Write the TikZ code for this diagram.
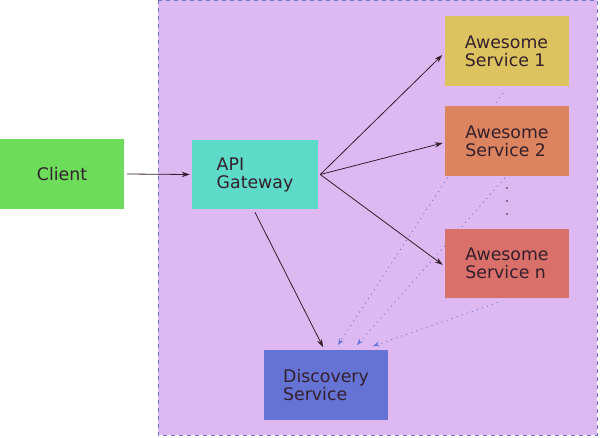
\documentclass[tikz,border=0pt]{standalone}
\usepackage{fontspec}
\setmainfont{DejaVu Sans}
\usepackage{xcolor}
\usepackage{tikz}
\usetikzlibrary{arrows.meta,backgrounds}

\definecolor{region}{HTML}{DDB8F1}
\definecolor{clientc}{HTML}{6DDC5A}
\definecolor{gatec}{HTML}{5DDAC8}
\definecolor{serva}{HTML}{DCC35F}
\definecolor{servb}{HTML}{DC8460}
\definecolor{servn}{HTML}{D9706A}
\definecolor{discc}{HTML}{6473D4}
\definecolor{ink}{HTML}{34202C}
\definecolor{dotc}{HTML}{6474D8}

\begin{document}
\begin{tikzpicture}[x=0.75pt,y=-0.75pt,
		box/.style={minimum width=93pt, minimum height=52pt, inner sep=0pt, align=left,
			font=\fontsize{13}{13.5}\selectfont, text=ink},
		call/.style={draw=ink, line width=0.6pt, -{Stealth[length=6pt,width=4pt]}},
		lookup/.style={draw=dotc, line width=0.6pt, dash pattern=on 0.8pt off 3.2pt,
			-{Stealth[length=5pt,width=3.5pt]}}]
		\useasboundingbox (0,0) rectangle (600,437);
		
		\node[box, fill=clientc] (client) at (62,174) {Client};
		\node[box, fill=gatec, minimum width=94.5pt] (gw) at (255,174.5) {API\\Gateway};
		\node[box, fill=serva] (s1) at (506.5,51) {Awesome\\Service 1};
		\node[box, fill=servb] (s2) at (507,141) {Awesome\\Service 2};
		\node[box, fill=servn] (sn) at (507,263.5) {Awesome\\Service n};
		\node[box, fill=discc] (disc) at (326,385) {Discovery\\Service};
		
		\begin{scope}[on background layer]
			\fill[region] (158,0) rectangle (597,435);
			\draw[dotc, dashed, line width=0.6pt] (158,0) rectangle (597,435);
			% lookups run behind the boxes
			\draw[lookup] ([xshift=-2.6pt,yshift=-5.2pt]s1.south) -- ([xshift=9pt,yshift=3.8pt]disc.north);
			\draw[lookup] ([xshift=-1.5pt,yshift=-1.5pt]s2.south) -- ([xshift=23.2pt,yshift=3.8pt]disc.north);
			\draw[lookup] ([xshift=-6.8pt,yshift=-3pt]sn.south) -- ([xshift=35.2pt,yshift=3pt]disc.north);
		\end{scope}
		
		\draw[call] ([xshift=2.2pt]client.east) -- ([xshift=-1.5pt]gw.west);
		\draw[call] ([xshift=1.5pt]gw.east) -- ([xshift=-1.5pt,yshift=-3pt]s1.west);
		\draw[call] ([xshift=1.5pt]gw.east) -- ([xshift=-1.5pt,yshift=-1.5pt]s2.west);
		\draw[call] ([xshift=1.5pt]gw.east) -- ([xshift=-1.5pt,yshift=-1pt]sn.west);
		\draw[call] ([yshift=-2.2pt]gw.south) -- ([xshift=-2.2pt,yshift=2.2pt]disc.north);
		
		\foreach \y in {188,201,214}
			\fill[ink] (507,\y) circle (0.7pt);
	\end{tikzpicture}
\end{document}
